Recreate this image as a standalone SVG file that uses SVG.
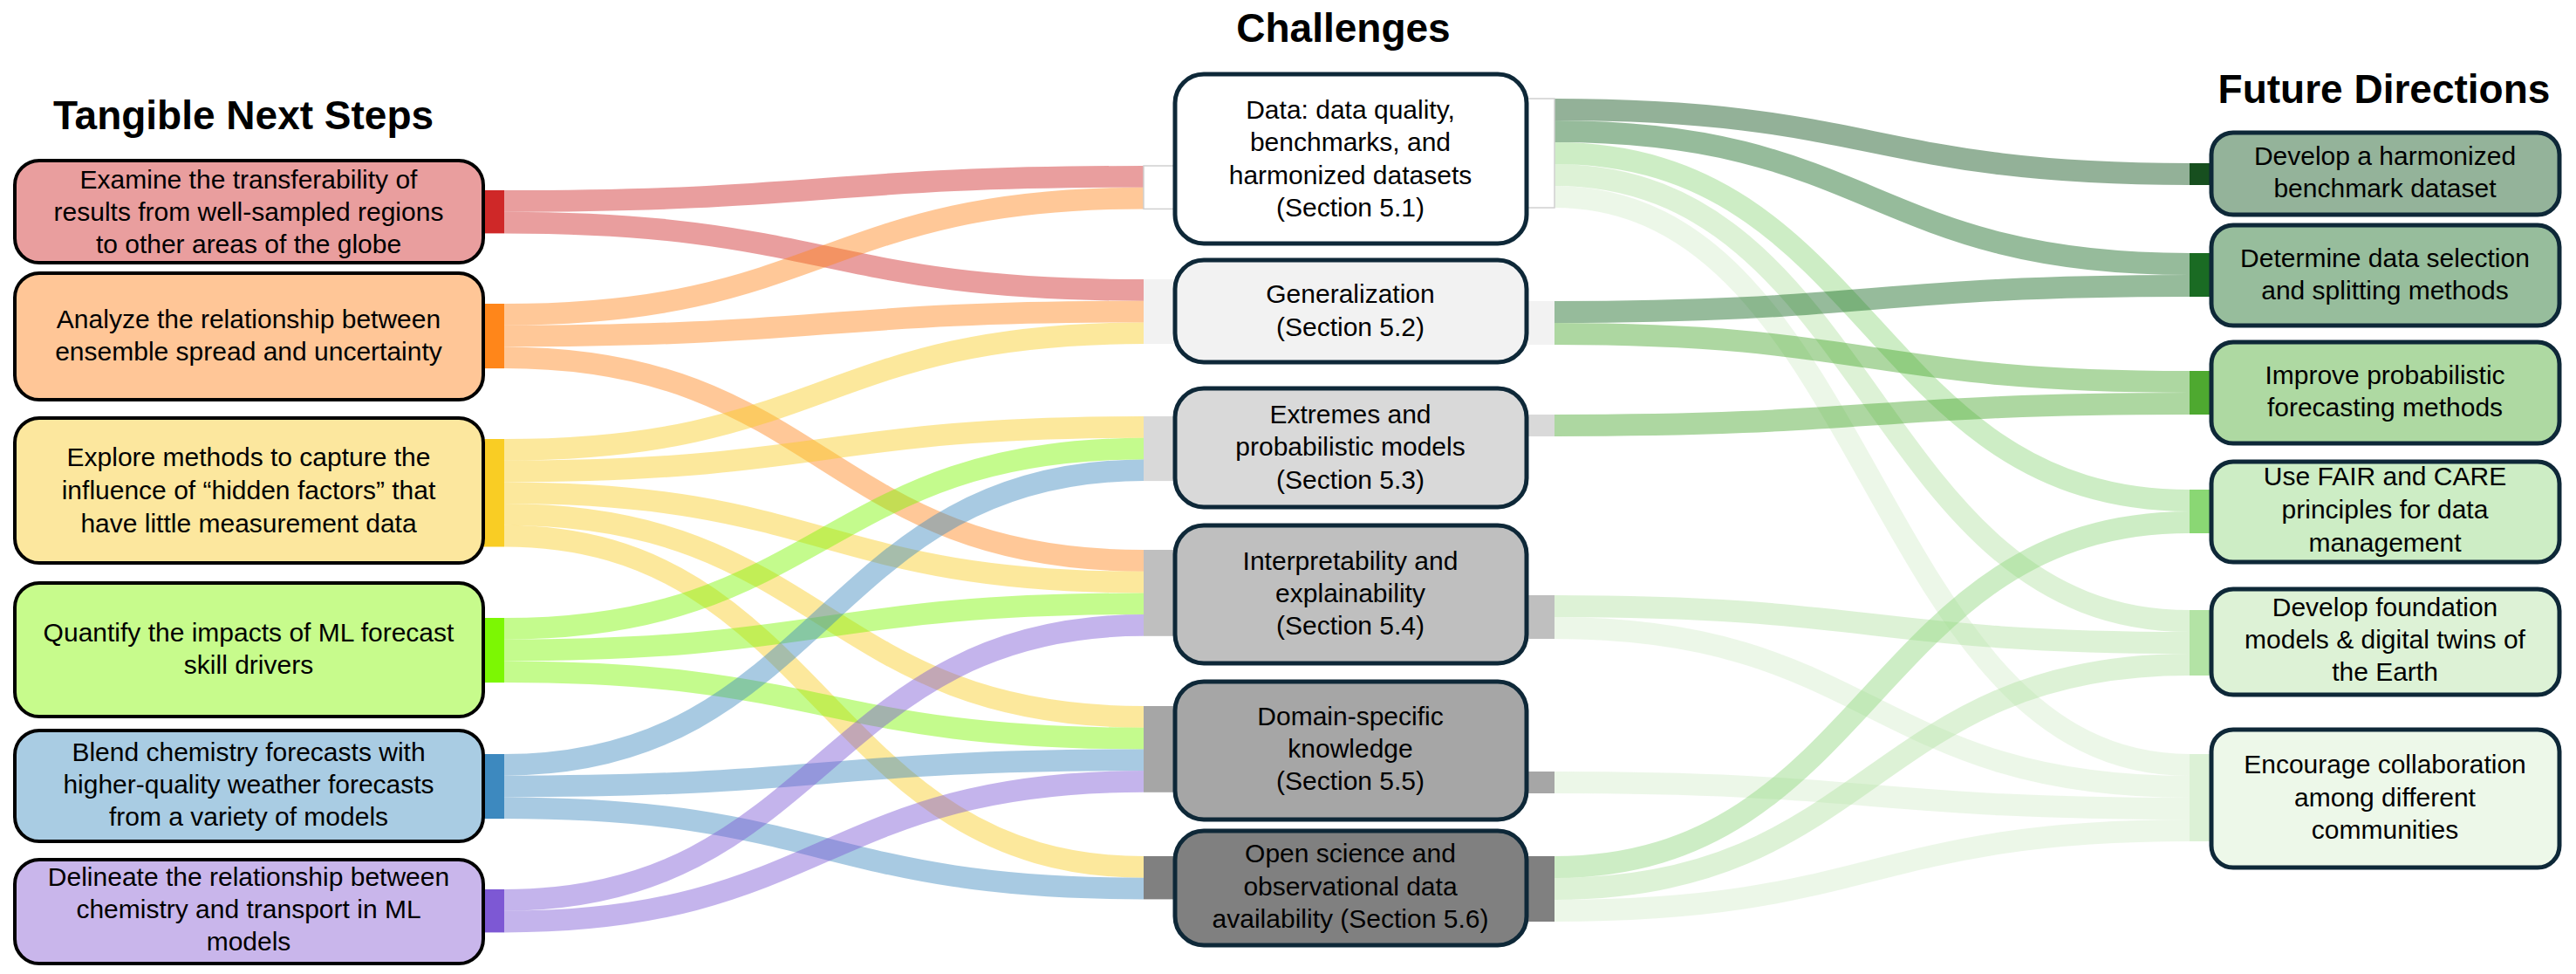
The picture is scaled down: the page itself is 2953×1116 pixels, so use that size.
<svg xmlns="http://www.w3.org/2000/svg" width="2953" height="1116" viewBox="0 0 2953 1116">
<style>
.t{font-family:"Liberation Sans",Arial,sans-serif;font-size:30px;fill:#000;text-anchor:middle}
.h{font-family:"Liberation Sans",Arial,sans-serif;font-size:46px;font-weight:bold;fill:#000;text-anchor:middle}
.fl{fill:none;stroke-opacity:0.45;stroke-width:24.7}
.fr{fill:none;stroke-opacity:0.45;stroke-width:25}
.lb{stroke:#000;stroke-width:4}
.mb{stroke:#0E2838;stroke-width:5}
</style>
<rect width="2953" height="1116" fill="#fff"/>
<g id="titles">
<text class="h" x="279" y="148">Tangible Next Steps</text>
<text class="h" x="1540" y="48">Challenges</text>
<text class="h" x="2733" y="118">Future Directions</text>
</g>
<g id="connectors">
<!-- left -->
<path class="fl" stroke="#CF2828" d="M578,230.35 C944.5,230.35 944.5,202.35 1311,202.35"/>
<path class="fl" stroke="#CF2828" d="M578,255.05 C944.5,255.05 944.5,332.35 1311,332.35"/>
<path class="fl" stroke="#FF861A" d="M578,360.35 C944.5,360.35 944.5,227.05 1311,227.05"/>
<path class="fl" stroke="#FF861A" d="M578,385.05 C944.5,385.05 944.5,357.05 1311,357.05"/>
<path class="fl" stroke="#FF861A" d="M578,409.75 C944.5,409.75 944.5,642.35 1311,642.35"/>
<path class="fl" stroke="#F9CD24" d="M578,515.35 C944.5,515.35 944.5,381.75 1311,381.75"/>
<path class="fl" stroke="#F9CD24" d="M578,540.05 C944.5,540.05 944.5,489.35 1311,489.35"/>
<path class="fl" stroke="#F9CD24" d="M578,564.75 C944.5,564.75 944.5,667.05 1311,667.05"/>
<path class="fl" stroke="#F9CD24" d="M578,589.45 C944.5,589.45 944.5,821.35 1311,821.35"/>
<path class="fl" stroke="#F9CD24" d="M578,614.15 C944.5,614.15 944.5,993.35 1311,993.35"/>
<path class="fl" stroke="#7CF703" d="M578,720.35 C944.5,720.35 944.5,514.05 1311,514.05"/>
<path class="fl" stroke="#7CF703" d="M578,745.05 C944.5,745.05 944.5,691.75 1311,691.75"/>
<path class="fl" stroke="#7CF703" d="M578,769.75 C944.5,769.75 944.5,846.05 1311,846.05"/>
<path class="fl" stroke="#3D89BF" d="M578,876.35 C944.5,876.35 944.5,538.75 1311,538.75"/>
<path class="fl" stroke="#3D89BF" d="M578,901.05 C944.5,901.05 944.5,870.75 1311,870.75"/>
<path class="fl" stroke="#3D89BF" d="M578,925.75 C944.5,925.75 944.5,1018.05 1311,1018.05"/>
<path class="fl" stroke="#7D58D4" d="M578,1031.35 C944.5,1031.35 944.5,716.45 1311,716.45"/>
<path class="fl" stroke="#7D58D4" d="M578,1056.05 C944.5,1056.05 944.5,895.45 1311,895.45"/>
<!-- right -->
<path class="fr" stroke="#10521A" d="M1782,125.5 C2146,125.5 2146,199.5 2510,199.5"/>
<path class="fr" stroke="#166821" d="M1782,150.5 C2146,150.5 2146,302.5 2510,302.5"/>
<path class="fr" stroke="#90D77E" d="M1782,175.5 C2146,175.5 2146,573.5 2510,573.5"/>
<path class="fr" stroke="#B3E2A4" d="M1782,200.5 C2146,200.5 2146,711.5 2510,711.5"/>
<path class="fr" stroke="#D5EDCC" d="M1782,225.5 C2146,225.5 2146,876.5 2510,876.5"/>
<path class="fr" stroke="#166821" d="M1782,357.5 C2146,357.5 2146,327.5 2510,327.5"/>
<path class="fr" stroke="#49A62E" d="M1782,382.5 C2146,382.5 2146,437.5 2510,437.5"/>
<path class="fr" stroke="#49A62E" d="M1782,487.5 C2146,487.5 2146,462.5 2510,462.5"/>
<path class="fr" stroke="#B3E2A4" d="M1782,694.5 C2146,694.5 2146,736.5 2510,736.5"/>
<path class="fr" stroke="#D5EDCC" d="M1782,719.5 C2146,719.5 2146,901.5 2510,901.5"/>
<path class="fr" stroke="#D5EDCC" d="M1782,896.5 C2146,896.5 2146,926.5 2510,926.5"/>
<path class="fr" stroke="#90D77E" d="M1782,993.5 C2146,993.5 2146,598.5 2510,598.5"/>
<path class="fr" stroke="#B3E2A4" d="M1782,1018.5 C2146,1018.5 2146,761.5 2510,761.5"/>
<path class="fr" stroke="#D5EDCC" d="M1782,1043.5 C2146,1043.5 2146,951.5 2510,951.5"/>
</g>
<g id="L1"><rect x="553" y="218" width="25" height="49.4" fill="#CF2828"/><rect class="lb" x="17" y="184" width="537" height="117" rx="28" fill="#E99E9E"/>
<text class="t" x="285" y="216">Examine the transferability of</text><text class="t" x="285" y="253">results from well-sampled regions</text><text class="t" x="285" y="290">to other areas of the globe</text></g>
<g id="L2"><rect x="553" y="348" width="25" height="74.1" fill="#FF861A"/><rect class="lb" x="17" y="313" width="537" height="145" rx="28" fill="#FFC697"/>
<text class="t" x="285" y="376">Analyze the relationship between</text><text class="t" x="285" y="413">ensemble spread and uncertainty</text></g>
<g id="L3"><rect x="553" y="503" width="25" height="123.5" fill="#F9CD24"/><rect class="lb" x="17" y="479" width="537" height="166" rx="28" fill="#FCE79E"/>
<text class="t" x="285" y="534">Explore methods to capture the</text><text class="t" x="285" y="572">influence of “hidden factors” that</text><text class="t" x="285" y="610">have little measurement data</text></g>
<g id="L4"><rect x="553" y="708" width="25" height="74.1" fill="#7CF703"/><rect class="lb" x="17" y="668" width="537" height="153" rx="28" fill="#C7FB8C"/>
<text class="t" x="285" y="735">Quantify the impacts of ML forecast</text><text class="t" x="285" y="772">skill drivers</text></g>
<g id="L5"><rect x="553" y="864" width="25" height="74.1" fill="#3D89BF"/><rect class="lb" x="17" y="837" width="537" height="127" rx="28" fill="#A9CCE3"/>
<text class="t" x="285" y="872">Blend chemistry forecasts with</text><text class="t" x="285" y="909">higher-quality weather forecasts</text><text class="t" x="285" y="946">from a variety of models</text></g>
<g id="L6"><rect x="553" y="1019" width="25" height="49.4" fill="#7D58D4"/><rect class="lb" x="17" y="985" width="537" height="119" rx="28" fill="#C9B6EB"/>
<text class="t" x="285" y="1015">Delineate the relationship between</text><text class="t" x="285" y="1052">chemistry and transport in ML</text><text class="t" x="285" y="1089">models</text></g>

<g id="M1"><rect x="1311" y="190" width="40" height="49.4" fill="#fff" stroke="#D0D0D0" stroke-width="1.5"/><rect x="1745" y="113" width="37" height="125" fill="#fff" stroke="#D0D0D0" stroke-width="1.5"/><rect class="mb" x="1347" y="85" width="403" height="194" rx="33" fill="#FFFFFF"/>
<text class="t" x="1548" y="136">Data: data quality,</text><text class="t" x="1548" y="173">benchmarks, and</text><text class="t" x="1548" y="211">harmonized datasets</text><text class="t" x="1548" y="248">(Section 5.1)</text></g>
<g id="M2"><rect x="1311" y="320" width="40" height="74.1" fill="#F2F2F2"/><rect x="1745" y="345" width="37" height="50" fill="#F2F2F2"/><rect class="mb" x="1347" y="298" width="403" height="117" rx="33" fill="#F2F2F2"/>
<text class="t" x="1548" y="347">Generalization</text><text class="t" x="1548" y="385">(Section 5.2)</text></g>
<g id="M3"><rect x="1311" y="477" width="40" height="74.1" fill="#D9D9D9"/><rect x="1745" y="475" width="37" height="25" fill="#D9D9D9"/><rect class="mb" x="1347" y="445" width="403" height="136" rx="33" fill="#D9D9D9"/>
<text class="t" x="1548" y="485">Extremes and</text><text class="t" x="1548" y="522">probabilistic models</text><text class="t" x="1548" y="560">(Section 5.3)</text></g>
<g id="M4"><rect x="1311" y="630" width="40" height="98.8" fill="#BFBFBF"/><rect x="1745" y="682" width="37" height="50" fill="#BFBFBF"/><rect class="mb" x="1347" y="602" width="403" height="158" rx="33" fill="#BFBFBF"/>
<text class="t" x="1548" y="653">Interpretability and</text><text class="t" x="1548" y="690">explainability</text><text class="t" x="1548" y="727">(Section 5.4)</text></g>
<g id="M5"><rect x="1311" y="809" width="40" height="98.8" fill="#A6A6A6"/><rect x="1745" y="884" width="37" height="25" fill="#A6A6A6"/><rect class="mb" x="1347" y="781" width="403" height="158" rx="33" fill="#A6A6A6"/>
<text class="t" x="1548" y="831">Domain-specific</text><text class="t" x="1548" y="868">knowledge</text><text class="t" x="1548" y="905">(Section 5.5)</text></g>
<g id="M6"><rect x="1311" y="981" width="40" height="49.4" fill="#808080"/><rect x="1745" y="981" width="37" height="75" fill="#808080"/><rect class="mb" x="1347" y="952" width="403" height="131" rx="33" fill="#808080"/>
<text class="t" x="1548" y="988">Open science and</text><text class="t" x="1548" y="1026">observational data</text><text class="t" x="1548" y="1063">availability (Section 5.6)</text></g>

<g id="R1"><rect x="2510" y="187" width="30" height="25" fill="#174F1F"/><rect class="mb" x="2535" y="152" width="399" height="94" rx="25" fill="#94B39A"/>
<text class="t" x="2734" y="189">Develop a harmonized</text><text class="t" x="2734" y="226">benchmark dataset</text></g>
<g id="R2"><rect x="2510" y="290" width="30" height="50" fill="#1A6B23"/><rect class="mb" x="2535" y="258" width="399" height="115" rx="25" fill="#97BD9C"/>
<text class="t" x="2734" y="306">Determine data selection</text><text class="t" x="2734" y="343">and splitting methods</text></g>
<g id="R3"><rect x="2510" y="425" width="30" height="50" fill="#4EA930"/><rect class="mb" x="2535" y="392" width="399" height="116" rx="25" fill="#AED9A2"/>
<text class="t" x="2734" y="440">Improve probabilistic</text><text class="t" x="2734" y="477">forecasting methods</text></g>
<g id="R4"><rect x="2510" y="561" width="30" height="50" fill="#8AD774"/><rect class="mb" x="2535" y="529" width="399" height="115" rx="25" fill="#CDEDC5"/>
<text class="t" x="2734" y="556">Use FAIR and CARE</text><text class="t" x="2734" y="594">principles for data</text><text class="t" x="2734" y="632">management</text></g>
<g id="R5"><rect x="2510" y="699" width="30" height="75" fill="#B3E3A5"/><rect class="mb" x="2535" y="675" width="399" height="121" rx="25" fill="#DDF2D6"/>
<text class="t" x="2734" y="706">Develop foundation</text><text class="t" x="2734" y="743">models &amp; digital twins of</text><text class="t" x="2734" y="780">the Earth</text></g>
<g id="R6"><rect x="2510" y="864" width="30" height="100" fill="#DCF1D6"/><rect class="mb" x="2535" y="836" width="399" height="158" rx="25" fill="#EDF8E9"/>
<text class="t" x="2734" y="886">Encourage collaboration</text><text class="t" x="2734" y="924">among different</text><text class="t" x="2734" y="961">communities</text></g>
</svg>
